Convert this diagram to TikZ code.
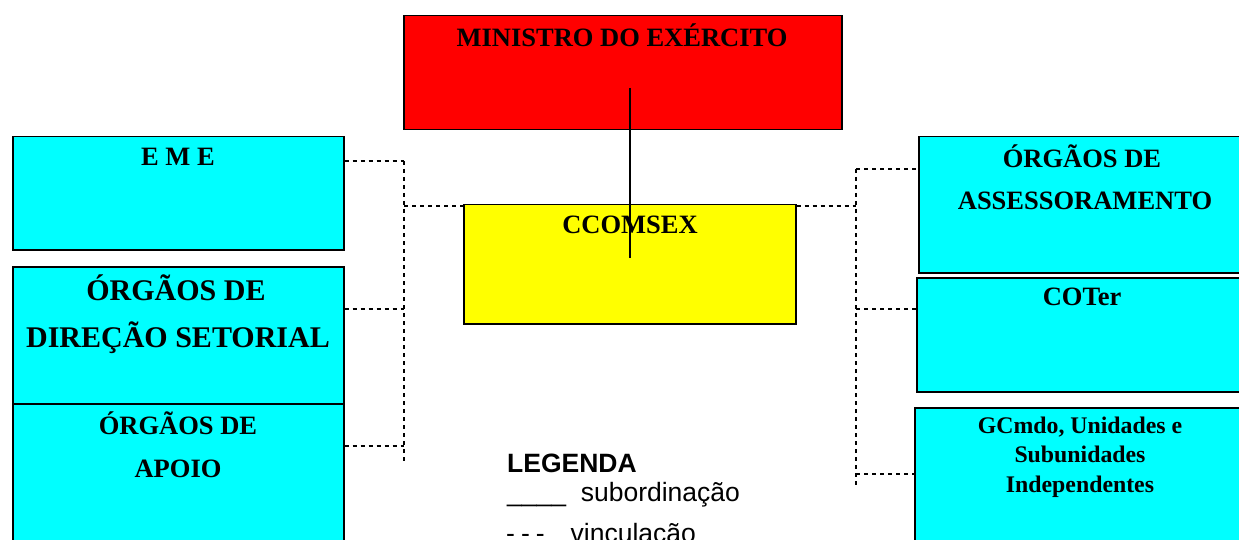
\documentclass[tikz,border=0pt]{standalone}
\usepackage{fontspec}
\setmainfont{Liberation Serif}
\setsansfont{Liberation Sans}
\definecolor{boxred}{RGB}{255,0,0}
\definecolor{boxyellow}{RGB}{255,255,0}
\definecolor{boxcyan}{RGB}{0,255,255}
\begin{document}
\begin{tikzpicture}[x=1pt,y=-1pt,
  box/.style={draw=black,line width=1.5pt,anchor=north west,inner sep=0pt},
  redbox/.style={box,fill=boxred},
  yelbox/.style={box,fill=boxyellow},
  cyabox/.style={box,fill=boxcyan},
  ttl/.style={font=\fontsize{26.5}{30}\selectfont\bfseries,inner sep=0pt,align=center},
  big/.style={font=\fontsize{30}{34}\selectfont\bfseries,inner sep=0pt,align=center},
  small/.style={font=\fontsize{23.8}{29.5}\selectfont\bfseries,inner sep=0pt,align=center},
  vinc/.style={line width=1.2pt,dash pattern=on 4pt off 4pt},
  sub/.style={line width=2pt},
  leg/.style={font=\sffamily\fontsize{26.5}{30}\selectfont,inner sep=0pt,anchor=base west}]
\useasboundingbox (0,0) rectangle (1239,540);
\clip (0,0) rectangle (1239,540);
% boxes
\node[redbox,minimum width=438pt,minimum height=114pt] (min) at (403,15) {};
\node[yelbox,minimum width=332pt,minimum height=119pt] (ccom) at (463,204) {};
\node[cyabox,minimum width=331pt,minimum height=113pt] (eme) at (12,136) {};
\node[cyabox,minimum width=331pt,minimum height=137pt] (dir) at (12,266) {};
\node[cyabox,minimum width=331pt,minimum height=150pt] (apo) at (12,403) {};
\node[cyabox,minimum width=340pt,minimum height=136pt] (ass) at (918,136) {};
\node[cyabox,minimum width=340pt,minimum height=114pt] (cot) at (916,277) {};
\node[cyabox,minimum width=340pt,minimum height=150pt] (gcm) at (914,407) {};
% texts
\node[ttl] (tmin) at (622,35) {MINISTRO DO EXÉRCITO};
\node[ttl] (tccom) at (630,225) {CCOMSEX};
\node[ttl] (teme) at (178,157) {E M E};
\node[big] (tdir1) at (176,288) {ÓRGÃOS DE};
\node[big] (tdir2) at (178,338) {DIREÇÃO SETORIAL};
\node[ttl] (tapo1) at (178,423) {ÓRGÃOS DE};
\node[ttl] (tapo2) at (178,469) {APOIO};
\node[ttl] (tass1) at (1082,156) {ÓRGÃOS DE};
\node[ttl] (tass2) at (1085,201) {ASSESSORAMENTO};
\node[ttl] (tcot) at (1082,297) {COTer};
\node[small] (tgcm) at (1080,457) {GCmdo, Unidades e\\Subunidades\\Independentes};
% subordination
\coordinate (s1) at (630,88);
\coordinate (s2) at (630,258);
\draw[sub] (s1) -- (s2);
% left vinculation
\coordinate (lt) at (404,161);
\coordinate (lb) at (404,462);
\coordinate (l2) at (404,309);
\coordinate (l3) at (404,446);
\coordinate (lc) at (404,206);
\draw[vinc] (lt) -- (lb);
\draw[vinc] (eme.east |- lt) -- (lt);
\draw[vinc] (dir.east |- l2) -- (l2);
\draw[vinc] (apo.east |- l3) -- (l3);
\draw[vinc] (lc) -- (ccom.west |- lc);
% right vinculation
\coordinate (rt) at (856,169);
\coordinate (rb) at (856,488);
\coordinate (rc) at (856,206);
\coordinate (r2) at (856,309);
\coordinate (r3) at (856,474);
\draw[vinc] (rt) -- (rb);
\draw[vinc] (ccom.east |- rc) -- (rc);
\draw[vinc] (rt) -- (ass.west |- rt);
\draw[vinc] (r2) -- (cot.west |- r2);
\draw[vinc] (r3) -- (gcm.west |- r3);
% legend
\node[leg,font=\sffamily\bfseries\fontsize{26.5}{30}\selectfont] (lg) at (507,472) {LEGENDA};
\node[leg] (lsub) at (507,501) {\_\_\_\_\ \ subordinação};
\node[leg] (lvin) at (506,542) {-\hspace{6pt}-\hspace{6pt}-\hspace{26pt}vinculação};
\end{tikzpicture}
\end{document}
